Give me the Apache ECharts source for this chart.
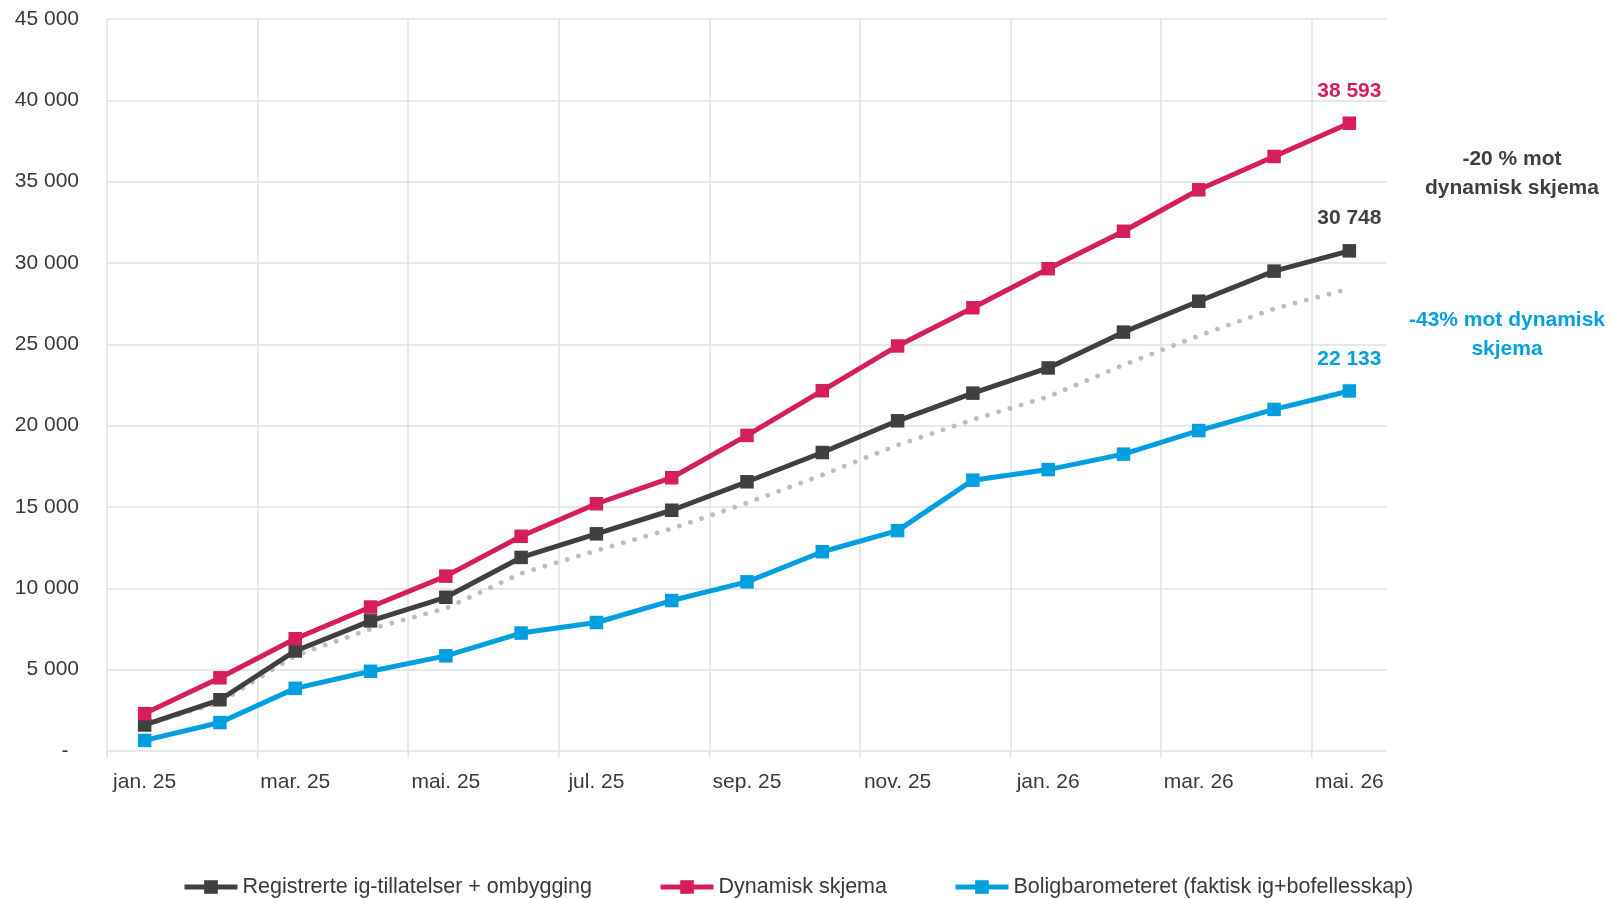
<!DOCTYPE html>
<html>
<head>
<meta charset="utf-8">
<script src="https://cdn.jsdelivr.net/npm/echarts@6/dist/echarts.min.js"></script>
<style>
  html, body { margin: 0; padding: 0; background: #ffffff; }
  #chart { width: 1611px; height: 899px; }
</style>
</head>
<body>
<div id="chart"></div>
<script>
// Months on the x axis
const months = ['jan. 25', 'feb. 25', 'mar. 25', 'apr. 25', 'mai. 25', 'jun. 25', 'jul. 25', 'aug. 25',
  'sep. 25', 'okt. 25', 'nov. 25', 'des. 25', 'jan. 26', 'feb. 26', 'mar. 26', 'apr. 26', 'mai. 26'];

// Cumulative number of dwellings per series
const registrerte = [1600, 3150, 6150, 8000, 9450, 11900, 13350, 14800, 16550, 18350, 20300, 22000, 23550, 25750, 27650, 29500, 30748];
const dynamisk = [2300, 4500, 6900, 8850, 10750, 13200, 15200, 16800, 19400, 22150, 24900, 27250, 29650, 31950, 34500, 36550, 38593];
const boligbarometeret = [650, 1750, 3850, 4900, 5850, 7250, 7900, 9250, 10400, 12250, 13550, 16650, 17300, 18250, 19700, 21000, 22133];
// Grey dotted reference line (no legend entry)
const referanse = [1600, 2990, 5860, 7500, 8770, 10920, 12320, 13670, 15250, 16970, 18810, 20370, 21780, 23730, 25530, 27190, 28420];

// Y axis scale
const yMin = 0, yMax = 45000, yStep = 5000;

const seriesNames = ['Registrerte ig-tillatelser + ombygging', 'Dynamisk skjema', 'Boligbarometeret (faktisk ig+bofellesskap)'];
const notes = [
  { text: '-20 % mot\ndynamisk skjema', color: '#404040' },
  { text: '-43% mot dynamisk\nskjema', color: '#009FDF' }
];

const FONT = '"Liberation Sans", Arial, sans-serif';
const GRID = '#DCE2E2';
const TEXT = '#3a3a3a';

function fmt(v) {
  return String(Math.round(v)).replace(/\B(?=(\d{3})+(?!\d))/g, ' ');
}

// Only the last point carries a value label
function withEndLabel(values, color) {
  return values.map((v, i) => i === values.length - 1
    ? { value: v, label: { show: true, position: 'top', distance: 15, color: color,
        fontFamily: FONT, fontSize: 21, fontWeight: 'bold', formatter: p => fmt(p.value) } }
    : v);
}

function lineSeries(name, values, color, z) {
  return {
    name: name,
    type: 'line',
    data: withEndLabel(values, color),
    symbol: 'rect',
    symbolSize: 13.5,
    showSymbol: true,
    z: z,
    lineStyle: { color: color, width: 5 },
    itemStyle: { color: color },
    emphasis: { disabled: true }
  };
}

// Every second month starts a labelled column; ticks mark its left edge
const tickMonths = months.map((m, i) => i).filter(i => i % 2 === 0);

const chart = echarts.init(document.getElementById('chart'), null, { renderer: 'canvas' });

chart.setOption({
  animation: false,
  backgroundColor: '#ffffff',
  textStyle: { fontFamily: FONT },
  grid: { left: 107, right: 224, top: 19, bottom: 148, containLabel: false },
  legend: {
    data: seriesNames,
    top: 871,
    left: 177,
    itemWidth: 53,
    itemHeight: 17,
    itemGap: 66,
    lineStyle: { width: 5 },
    textStyle: { fontFamily: FONT, fontSize: 21.5, color: TEXT },
    selectedMode: false
  },
  xAxis: {
    type: 'category',
    data: months,
    boundaryGap: true,
    axisLine: { show: false },
    axisTick: { show: false },
    axisLabel: { interval: 1, margin: 21, fontFamily: FONT, fontSize: 21, color: TEXT },
    splitLine: { show: true, interval: 1, showMaxLine: false, lineStyle: { color: GRID, width: 1.5 } }
  },
  yAxis: {
    type: 'value',
    min: yMin,
    max: yMax,
    interval: yStep,
    axisLine: { show: false },
    axisTick: { show: false },
    axisLabel: {
      margin: 28, fontFamily: FONT, fontSize: 21, color: TEXT,
      formatter: v => v === 0 ? '-\u2002' : fmt(v)
    },
    splitLine: { show: true, lineStyle: { color: GRID, width: 1.5 } }
  },
  series: [
    {
      name: 'Referanse',
      type: 'line',
      data: referanse,
      symbol: 'none',
      z: 1,
      lineStyle: { color: '#BDBDBD', width: 4.8, type: [0.1, 11.6], cap: 'round' },
      emphasis: { disabled: true }
    },
    // short tick marks below the axis at the left edge of each labelled month
    {
      name: 'ticks',
      type: 'custom',
      data: tickMonths.map(i => [i, yMin]),
      encode: { x: 0, y: 1 },
      silent: true,
      clip: false,
      z: 0,
      renderItem: function (params, api) {
        const p = api.coord([api.value(0), api.value(1)]);
        const band = api.size([1, 0])[0];
        const x = p[0] - band / 2;
        return { type: 'line', shape: { x1: x, y1: p[1], x2: x, y2: p[1] + 7 },
          style: { stroke: GRID, lineWidth: 1.5 } };
      }
    },
    lineSeries(seriesNames[0], registrerte, '#404040', 3),
    lineSeries(seriesNames[1], dynamisk, '#D51F5B', 4),
    lineSeries(seriesNames[2], boligbarometeret, '#009FDF', 2)
  ],
  graphic: [
    { type: 'text', x: 1512, y: 173.5, silent: true,
      style: { text: notes[0].text, fill: notes[0].color, font: 'bold 21px ' + FONT,
        textAlign: 'center', textVerticalAlign: 'middle', lineHeight: 29 } },
    { type: 'text', x: 1507, y: 335, silent: true,
      style: { text: notes[1].text, fill: notes[1].color, font: 'bold 21px ' + FONT,
        textAlign: 'center', textVerticalAlign: 'middle', lineHeight: 29 } }
  ]
});
</script>
</body>
</html>
